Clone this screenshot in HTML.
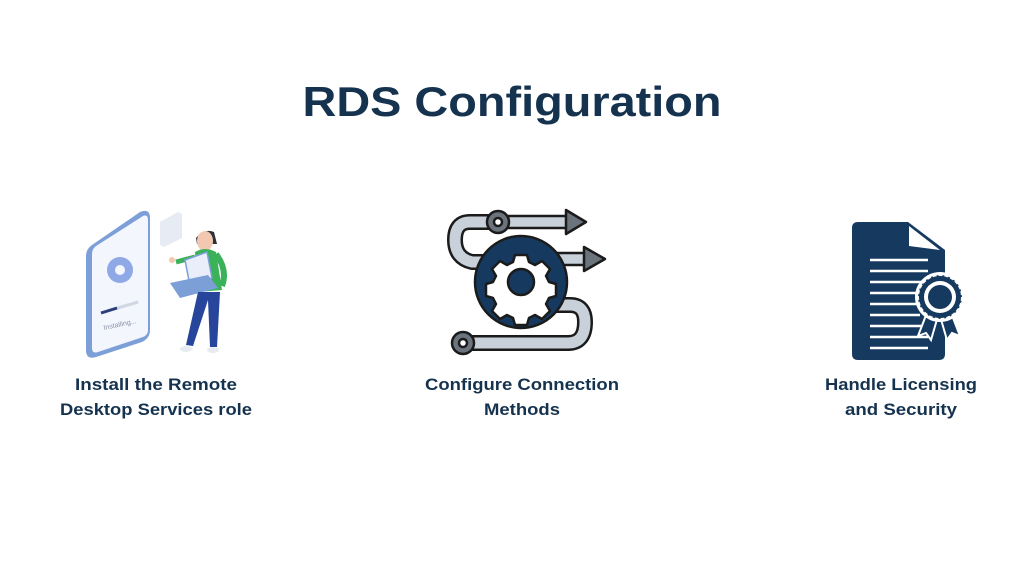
<!DOCTYPE html>
<html><head><meta charset="utf-8"><style>
html,body{margin:0;padding:0;background:#fff;}
svg{display:block;}
text{font-family:"Liberation Sans",sans-serif;font-weight:bold;fill:#15324f;}
</style></head><body>
<svg width="1024" height="576" viewBox="0 0 1024 576" xmlns="http://www.w3.org/2000/svg">
<rect width="1024" height="576" fill="#fff"/>
<text x="512" y="116" font-size="42" text-anchor="middle" textLength="419" lengthAdjust="spacingAndGlyphs">RDS Configuration</text>

<!-- labels -->
<text x="156" y="390" font-size="17" text-anchor="middle" textLength="162" lengthAdjust="spacingAndGlyphs">Install the Remote</text>
<text x="156" y="415" font-size="17" text-anchor="middle" textLength="192" lengthAdjust="spacingAndGlyphs">Desktop Services role</text>
<text x="522" y="390" font-size="17" text-anchor="middle" textLength="194" lengthAdjust="spacingAndGlyphs">Configure Connection</text>
<text x="522" y="415" font-size="17" text-anchor="middle" textLength="76" lengthAdjust="spacingAndGlyphs">Methods</text>
<text x="901" y="390" font-size="17" text-anchor="middle" textLength="152" lengthAdjust="spacingAndGlyphs">Handle Licensing</text>
<text x="901" y="415" font-size="17" text-anchor="middle" textLength="112" lengthAdjust="spacingAndGlyphs">and Security</text>

<!-- left illustration -->
<g>
  <path d="M92 245 L140 212 Q150 208 150 218 L150 330 Q150 338 142 342 L96 357 Q86 360 86 350 L86 256 Q86 249 92 245Z" fill="#7d9fd8"/>
  <path d="M96 246 L143 216 Q148 214 148 220 L148 330 Q148 335 143 337 L98 352 Q92 354 92 348 L92 254 Q92 249 96 246Z" fill="#f3f6fc"/>
  <circle cx="120" cy="270" r="13" fill="#8fa8e6"/>
  <circle cx="120" cy="270" r="5" fill="#f3f6fc"/>
  <path d="M101 313 L138 302" stroke="#d0d6e2" stroke-width="3"/>
  <path d="M101 313 L117 308" stroke="#2c3f7a" stroke-width="3"/>
  <text x="104" y="330" font-size="7" font-weight="normal" style="fill:#8a93a8;font-weight:normal" transform="rotate(-12 104 330)">Installing...</text>
  <path d="M160 222 L178 212 L182 214 L182 238 L164 247 L160 245Z" fill="#e6ebf4"/>
  <!-- person -->
  <path d="M196 238 Q204 228 214 232 L217 244 L197 244Z" fill="#2f2f3a"/>
  <ellipse cx="205" cy="241" rx="8" ry="10" fill="#f2c9b0"/>
  <path d="M195 252 Q205 246 216 252 L222 290 L198 292Z" fill="#3bb25a"/>
  <path d="M216 254 Q228 270 222 286" stroke="#3bb25a" stroke-width="6" fill="none"/>
  <path d="M195 257 L176 262" stroke="#3bb25a" stroke-width="5"/>
  <circle cx="172" cy="260" r="3" fill="#f2c9b0"/>
  <path d="M185 260 L207 252 L212 278 L190 286Z" fill="#e9eefa" stroke="#7d9fd8" stroke-width="1.5"/>
  <path d="M170 283 L208 275 L218 288 L180 298Z" fill="#7d9fd8"/>
  <path d="M198 292 L186 345 L193 346 L208 300 L210 347 L217 347 L220 292Z" fill="#27459a"/>
  <ellipse cx="186" cy="349" rx="6" ry="3" fill="#e8ecf2"/>
  <ellipse cx="213" cy="350" rx="6" ry="3" fill="#e8ecf2"/>
</g>

<!-- middle icon -->
<g stroke="#1b1b1b" stroke-width="2.5" stroke-linejoin="round">
  <path d="M498 222 L470 222 Q455 222 455 240 Q455 258 472 262 L490 262" fill="none" stroke="#1b1b1b" stroke-width="16"/>
  <path d="M498 222 L470 222 Q455 222 455 240 Q455 258 472 262 L490 262" fill="none" stroke="#c8d0da" stroke-width="11"/>
  <rect x="498" y="216" width="72" height="12" fill="#c8d0da"/>
  <path d="M566 210 L586 222 L566 234Z" fill="#6b737d"/>
  <rect x="555" y="253" width="30" height="12" fill="#c8d0da"/>
  <path d="M584 247 L605 259 L584 271Z" fill="#6b737d"/>
  <path d="M555 305 L570 305 Q585 305 585 322 Q585 343 568 343 L470 343" fill="none" stroke="#1b1b1b" stroke-width="16"/>
  <path d="M555 305 L570 305 Q585 305 585 322 Q585 343 568 343 L470 343" fill="none" stroke="#c8d0da" stroke-width="11"/>
  <circle cx="521" cy="282" r="46" fill="#163a5f"/>
  <path d="M515 255 h12 l2 7 l6 3 l7 -4 l8 8 l-4 7 l3 6 l7 2 v12 l-7 2 l-3 6 l4 7 l-8 8 l-7 -4 l-6 3 l-2 7 h-12 l-2 -7 l-6 -3 l-7 4 l-8 -8 l4 -7 l-3 -6 l-7 -2 v-12 l7 -2 l3 -6 l-4 -7 l8 -8 l7 4 l6 -3z" fill="#fff"/>
  <circle cx="521" cy="282" r="13" fill="#163a5f"/>
  <circle cx="498" cy="222" r="11" fill="#6b737d"/>
  <circle cx="498" cy="222" r="4" fill="#fff"/>
  <circle cx="463" cy="343" r="11" fill="#6b737d"/>
  <circle cx="463" cy="343" r="4" fill="#fff"/>
</g>

<!-- right icon -->
<g>
  <path d="M858 222 L908 222 L945 250 L945 354 Q945 360 939 360 L858 360 Q852 360 852 354 L852 228 Q852 222 858 222Z" fill="#163a5f"/>
  <path d="M909 226 L909 246 L940 250Z" fill="#fff"/>
  <g stroke="#fff" stroke-width="2.5">
    <line x1="870" y1="260" x2="928" y2="260"/>
    <line x1="870" y1="271" x2="928" y2="271"/>
    <line x1="870" y1="282" x2="925" y2="282"/>
    <line x1="870" y1="293" x2="920" y2="293"/>
    <line x1="870" y1="304" x2="918" y2="304"/>
    <line x1="870" y1="315" x2="920" y2="315"/>
    <line x1="870" y1="326" x2="925" y2="326"/>
    <line x1="870" y1="337" x2="928" y2="337"/>
    <line x1="870" y1="348" x2="928" y2="348"/>
  </g>
  <path d="M928 310 L918 336 L926 333 L931 340 L938 316Z M950 310 L960 336 L952 333 L947 340 L940 316Z" fill="#163a5f" stroke="#fff" stroke-width="2"/>
  <circle cx="940" cy="297" r="25" fill="#fff"/>
  <circle cx="940" cy="297" r="22" fill="#163a5f" stroke="#fff" stroke-width="2" stroke-dasharray="4 2"/>
  <circle cx="940" cy="297" r="16" fill="#fff"/>
  <circle cx="940" cy="297" r="12" fill="#163a5f"/>
</g>
</svg>
</body></html>
